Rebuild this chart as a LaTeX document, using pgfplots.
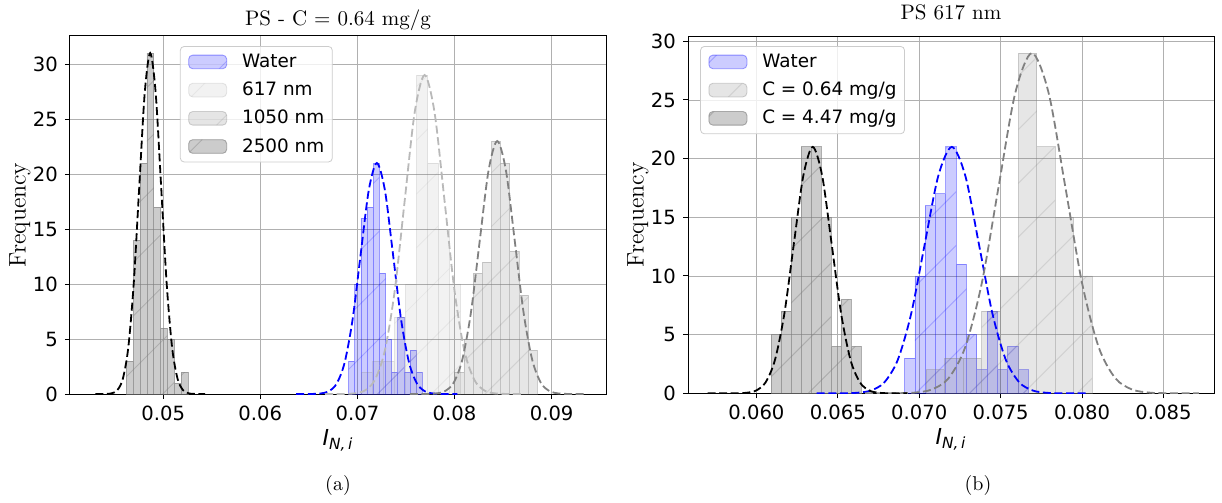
\documentclass[border=0pt]{standalone}
\usepackage{fontspec}
\usepackage{pgfplots}
\pgfplotsset{compat=1.18}
\usetikzlibrary{patterns.meta}
\newfontfamily\dejavu{DejaVu Sans}
\definecolor{gridc}{RGB}{176,176,176}
\definecolor{legc}{RGB}{204,204,204}
\definecolor{mgray}{RGB}{128,128,128}
\definecolor{silverc}{RGB}{185,185,185}
\pgfplotsset{
  hist/.style n args={2}{ybar interval, fill=#1, draw=#1, fill opacity=#2, draw opacity=#2,
    postaction={pattern={Lines[angle=45,distance=19pt,line width=0.5pt]}, pattern color=#1},
    legend image code/.code={\draw[##1] (0pt,-3.4pt) rectangle (19pt,3.4pt);}},
  gauss/.style={forget plot, smooth, line width=0.9pt, dash pattern=on 4pt off 1.8pt, color=#1},
  common/.style={scale only axis, ymin=0, grid=major,
    major grid style={line width=0.4pt, color=gridc},
    tick align=outside, tick pos=left, major tick length=2.5pt,
    major tick style={line width=0.5pt, black},
    axis line style={line width=0.5pt},
    scaled x ticks=false, scaled y ticks=false,
    ticklabel style={font=\dejavu\fontsize{9.8}{11}\selectfont},
    ytick={0,5,10,15,20,25,30}, yticklabels={0,5,10,15,20,25,30},
    xlabel={\dejavu\fontsize{11}{13}\selectfont\itshape I\textsubscript{N,\,i}},
    ylabel={Frequency},
    every axis x label/.style={at={(rel axis cs:0.5,0)}, anchor=base, yshift=-25.5pt},
    every axis y label/.style={at={(rel axis cs:0,0.5)}, xshift=-25pt, rotate=90, anchor=center,
      font=\fontsize{12}{14}\selectfont},
    legend cell align=left,
    legend style={anchor=north west, draw=legc, rounded corners=2pt, fill=white, fill opacity=0.8, text opacity=1,
      font=\dejavu\fontsize{9.2}{11}\selectfont, inner xsep=4pt, inner ysep=3pt, row sep=4.6pt,
      nodes={inner sep=0pt, text height=0.75em, text depth=0.2em},
      /tikz/every odd column/.append style={column sep=7.5pt}},
  }
}
\begin{document}
\begin{tikzpicture}
\path[use as bounding box] (0,0) rectangle (611pt,-251.5pt);
% ---------------- (a) ----------------
\begin{axis}[common, at={(35pt,-197pt)}, anchor=south west, width=268pt, height=179pt,
  xmin=0.0404, xmax=0.0956, ymax=32.55,
  xtick={0.05,0.06,0.07,0.08,0.09}, xticklabels={0.05,0.06,0.07,0.08,0.09},
  title={PS - C = 0.64 mg/g},
  every axis title/.style={at={(rel axis cs:0.5,1)}, anchor=base, yshift=5pt, font=\fontsize{10.5}{12}\selectfont},
  legend style={at={(rel axis cs:0.205,0.972)}}]
\addplot[hist={blue}{0.2}] coordinates {(0.06910,3) (0.069733,10) (0.070366,16) (0.070999,17) (0.071632,21) (0.072265,11) (0.072898,5) (0.073531,2) (0.074164,7) (0.074797,2) (0.07543,4) (0.076063,2) (0.076696,0)};
\addlegendentry{Water}
\addplot[hist={mgray}{0.1}] coordinates {(0.07044,2) (0.07157,3) (0.07270,3) (0.07383,7) (0.07496,10) (0.07609,29) (0.07722,21) (0.07835,15) (0.07948,10) (0.08061,0)};
\addlegendentry{617 nm}
\addplot[hist={mgray}{0.2}] coordinates {(0.08002,2) (0.080967,5) (0.081914,11) (0.082861,12) (0.083808,23) (0.084755,21) (0.085702,13) (0.086649,9) (0.087596,4) (0.088543,0)};
\addlegendentry{1050 nm}
\addplot[hist={mgray}{0.4}] coordinates {(0.04621,3) (0.046915,14) (0.04762,21) (0.048325,31) (0.04903,17) (0.049735,6) (0.05044,5) (0.051145,1) (0.05185,2) (0.052555,0)};
\addlegendentry{2500 nm}
% fitted curves
\addplot[gauss=blue] coordinates {(0.0637,0) (0.06536,0.007) (0.06619,0.046) (0.06702,0.233) (0.06785,0.923) (0.06868,2.842) (0.06951,6.818) (0.07034,12.737) (0.07117,18.532) (0.0720,21) (0.07283,18.532) (0.07366,12.737) (0.07449,6.818) (0.07532,2.842) (0.07615,0.923) (0.07698,0.233) (0.07781,0.046) (0.07864,0.007) (0.0803,0)};
\addplot[gauss=silverc] coordinates {(0.06667,0) (0.06872,0.0097) (0.069745,0.0634) (0.07077,0.3222) (0.071795,1.2742) (0.07282,3.9247) (0.073845,9.4149) (0.07487,17.589) (0.075895,25.592) (0.07692,29) (0.077945,25.592) (0.07897,17.589) (0.079995,9.4149) (0.08102,3.9247) (0.082045,1.2742) (0.08307,0.3222) (0.084095,0.0634) (0.08512,0.0097) (0.08717,0)};
\addplot[gauss=mgray] coordinates {(0.0754,0) (0.0772,0.0077) (0.0781,0.0503) (0.0790,0.2555) (0.0799,1.0106) (0.0808,3.1127) (0.0817,7.4670) (0.0826,13.950) (0.0835,20.297) (0.0844,23) (0.0853,20.297) (0.0862,13.950) (0.0871,7.4670) (0.0880,3.1127) (0.0889,1.0106) (0.0898,0.2555) (0.0907,0.0503) (0.0916,0.0077) (0.0934,0)};
\addplot[gauss=black] coordinates {(0.04301,0) (0.04414,0.0104) (0.044705,0.0678) (0.04527,0.3444) (0.045835,1.3620) (0.0464,4.1954) (0.046965,10.064) (0.04753,18.803) (0.048095,27.357) (0.04866,31) (0.049225,27.357) (0.04979,18.803) (0.050355,10.064) (0.05092,4.1954) (0.051485,1.3620) (0.05205,0.3444) (0.052615,0.0678) (0.05318,0.0104) (0.05431,0)};
\end{axis}
% ---------------- (b) ----------------
\begin{axis}[common, at={(344pt,-196.65pt)}, anchor=south west, width=263pt, height=178.65pt,
  xmin=0.0558, xmax=0.0881, ymax=30.45,
  xtick={0.060,0.065,0.070,0.075,0.080,0.085}, xticklabels={0.060,0.065,0.070,0.075,0.080,0.085},
  title={PS 617 nm},
  every axis title/.style={at={(rel axis cs:0.5,1)}, anchor=base, yshift=8.5pt, font=\fontsize{10.5}{12}\selectfont},
  legend style={at={(rel axis cs:0.023,0.972)}}]
\addplot[hist={blue}{0.2}] coordinates {(0.06910,3) (0.069733,10) (0.070366,16) (0.070999,17) (0.071632,21) (0.072265,11) (0.072898,5) (0.073531,2) (0.074164,7) (0.074797,2) (0.07543,4) (0.076063,2) (0.076696,0)};
\addlegendentry{Water}
\addplot[hist={mgray}{0.2}] coordinates {(0.07044,2) (0.07157,3) (0.07270,3) (0.07383,7) (0.07496,10) (0.07609,29) (0.07722,21) (0.07835,15) (0.07948,10) (0.08061,0)};
\addlegendentry{C = 0.64 mg/g}
\addplot[hist={mgray}{0.4}] coordinates {(0.0609,5) (0.061513,7) (0.062126,15) (0.062739,21) (0.063352,21) (0.063965,15) (0.064578,4) (0.065191,8) (0.065804,4) (0.066417,0)};
\addlegendentry{C = 4.47 mg/g}
\addplot[gauss=blue] coordinates {(0.0637,0) (0.06536,0.007) (0.06619,0.046) (0.06702,0.233) (0.06785,0.923) (0.06868,2.842) (0.06951,6.818) (0.07034,12.737) (0.07117,18.532) (0.0720,21) (0.07283,18.532) (0.07366,12.737) (0.07449,6.818) (0.07532,2.842) (0.07615,0.923) (0.07698,0.233) (0.07781,0.046) (0.07864,0.007) (0.0803,0)};
\addplot[gauss=mgray] coordinates {(0.06667,0) (0.06872,0.0097) (0.069745,0.0634) (0.07077,0.3222) (0.071795,1.2742) (0.07282,3.9247) (0.073845,9.4149) (0.07487,17.589) (0.075895,25.592) (0.07692,29) (0.077945,25.592) (0.07897,17.589) (0.079995,9.4149) (0.08102,3.9247) (0.082045,1.2742) (0.08307,0.3222) (0.084095,0.0634) (0.08512,0.0097) (0.08717,0)};
\addplot[gauss=black] coordinates {(0.05700,0) (0.05766,0.001) (0.05882,0.007) (0.0594,0.046) (0.05998,0.233) (0.06056,0.923) (0.06114,2.842) (0.06172,6.818) (0.0623,12.737) (0.06288,18.532) (0.06346,21) (0.06404,18.532) (0.06462,12.737) (0.0652,6.818) (0.06578,2.842) (0.06636,0.923) (0.06694,0.233) (0.06752,0.046) (0.0681,0.007) (0.06926,0)};
\end{axis}
\node[font=\fontsize{10}{12}\selectfont] at (169pt,-242.5pt) {(a)};
\node[font=\fontsize{10}{12}\selectfont] at (489pt,-242.5pt) {(b)};
\end{tikzpicture}
\end{document}
